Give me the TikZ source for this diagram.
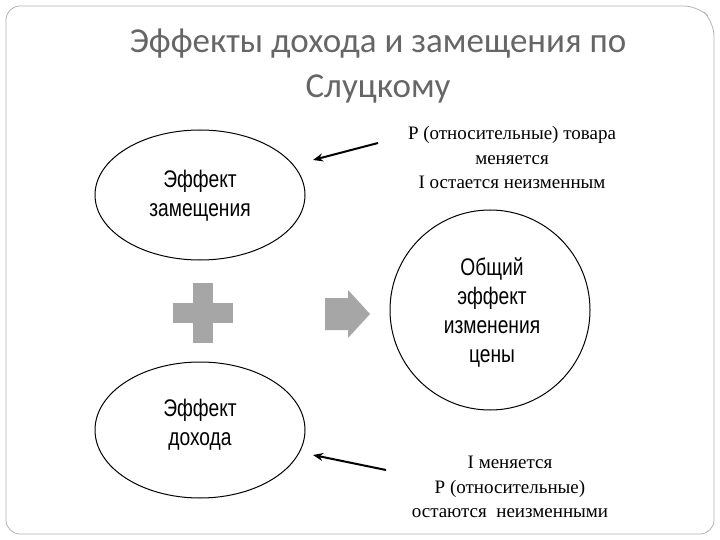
\documentclass[tikz,border=0pt]{standalone}
\usepackage{fontspec}
\setmainfont{Liberation Serif}
\newfontfamily\titlefont{Carlito}
\newfontfamily\narrowfont{Liberation Sans}[FakeStretch=0.8]
\usetikzlibrary{arrows.meta,shapes.arrows}
\begin{document}
\begin{tikzpicture}[x=1pt,y=-1pt,
  etext/.style={font=\narrowfont\fontsize{24}{29}\selectfont,align=center},
  rtext/.style={font=\fontsize{19}{24.5}\selectfont,align=center},
  blk/.style={-{Stealth[length=10pt,width=8pt]},line width=2pt}]
\useasboundingbox (0,0) rectangle (720,540);
\draw[gray!60,line width=0.8pt,rounded corners=14pt] (6,6) -- (698,6) -- (714,22) -- (714,534) -- (6,534) -- cycle;
\node[font=\titlefont\fontsize{35}{45}\selectfont,text=gray!80!black,align=center] (title) at (378,66) {Эффекты дохода и замещения по\\Слуцкому};
\draw[line width=1pt] (200,195) ellipse (105 and 65);
\node[etext] (e1) at (200,196) {Эффект\\замещения};
\draw[line width=1pt] (200,430) ellipse (105 and 68);
\node[etext] (e2) at (200,425) {Эффект\\дохода};
\draw[line width=1pt] (490,310) circle (100);
\node[etext] (tot) at (492,312) {Общий\\эффект\\изменения\\цены};
\fill[gray!70] (193,283) rectangle (213,343);
\fill[gray!70] (173,303) rectangle (233,323);
\fill[gray!70] (325,298) -- (348,298) -- (348,290) -- (370,314) -- (348,338) -- (348,330) -- (325,330) -- cycle;
\node[rtext] (t1) at (512,158) {P (относительные) товара\\меняется\\I остается неизменным};
\node[rtext] (t2) at (510,487) {I меняется\\P (относительные)\\остаются~ неизменными};
\coordinate (a1s) at (378,143); \coordinate (a1e) at (313,160);
\coordinate (a2s) at (386,470); \coordinate (a2e) at (313,455);
\draw[blk] (a1s) -- (a1e);
\draw[blk] (a2s) -- (a2e);
\end{tikzpicture}
\end{document}
